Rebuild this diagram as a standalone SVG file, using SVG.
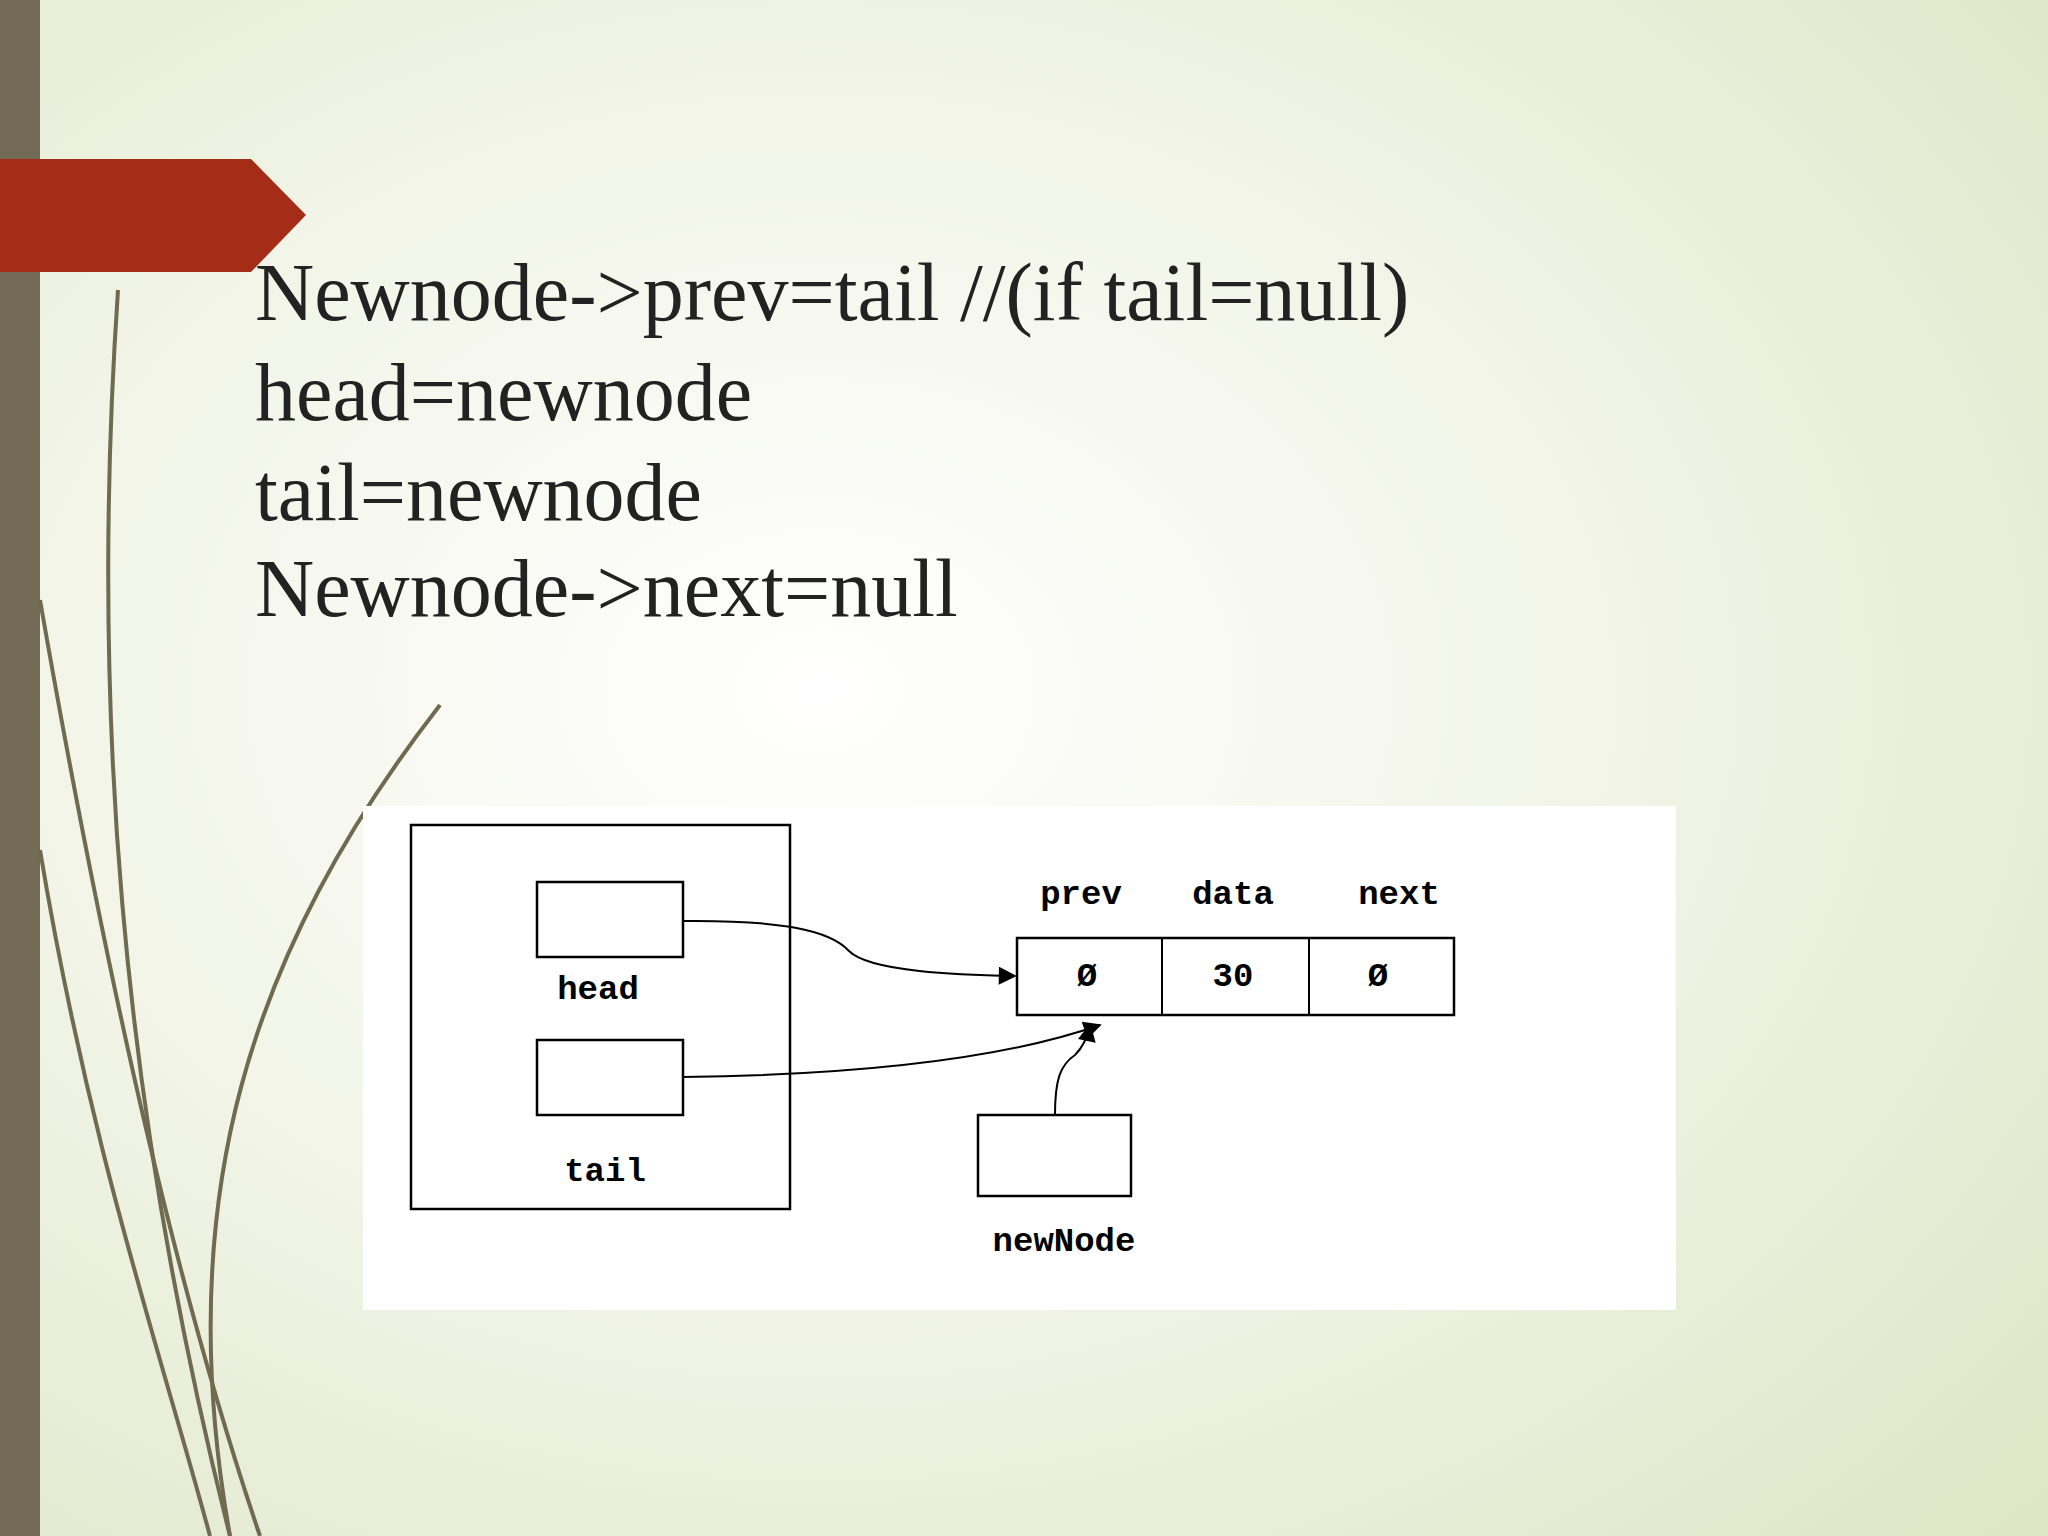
<svg xmlns="http://www.w3.org/2000/svg" width="2048" height="1536" viewBox="0 0 2048 1536">
<defs>
<radialGradient id="bg" cx="0.4" cy="0.45" r="0.8">
<stop offset="0" stop-color="#ffffff"/><stop offset="0.5" stop-color="#f1f4e6"/><stop offset="1" stop-color="#dde6c6"/>
</radialGradient>
<marker id="ah" viewBox="0 0 10 10" refX="9" refY="5" markerWidth="26" markerHeight="18" markerUnits="userSpaceOnUse" orient="auto"><path d="M0,0L10,5L0,10z" fill="#000"/></marker>
<style>
.t{font-family:"Liberation Serif",serif;font-size:82px;fill:#222}
.d{font-family:"Liberation Mono","Liberation Serif",monospace;font-size:34px;font-weight:bold;fill:#000;text-anchor:middle}
.b{fill:#fff;stroke:#000;stroke-width:2.5}
.c{fill:none;stroke:#000;stroke-width:2}
.deco{fill:none;stroke:#6f6a50;stroke-width:4}
</style>
</defs>
<rect width="2048" height="1536" fill="url(#bg)"/>
<g id="decor">
<rect x="0" y="0" width="40" height="1536" fill="#736b55"/>
<path class="deco" d="M118,290 C90,700 120,1100 230,1536"/>
<path class="deco" d="M40,600 C110,1000 180,1300 260,1536"/>
<path class="deco" d="M440,705 C250,950 170,1200 230,1536" stroke-width="3"/>
<path class="deco" d="M40,850 C90,1150 160,1350 210,1536" stroke="#a8a68a"/>
<polygon points="0,159 251,159 306,215 251,272 0,272" fill="#a52d17"/>
</g>
<g id="code">
<text class="t" x="255" y="320">Newnode-&gt;prev=tail //(if tail=null)</text>
<text class="t" x="255" y="420">head=newnode</text>
<text class="t" x="255" y="520">tail=newnode</text>
<text class="t" x="255" y="616">Newnode-&gt;next=null</text>
</g>
<rect x="363" y="806" width="1313" height="504" fill="#fff"/>
<g id="container"><rect class="b" x="411" y="825" width="379" height="384"/></g>
<g id="head"><rect class="b" x="537" y="882" width="146" height="75"/><text class="d" x="598" y="999">head</text></g>
<g id="tail"><rect class="b" x="537" y="1040" width="146" height="75"/><text class="d" x="605" y="1181">tail</text></g>
<g id="node">
<rect class="b" x="1017" y="938" width="437" height="77"/>
<line class="c" x1="1162" y1="938" x2="1162" y2="1015" stroke-width="2.5"/>
<line class="c" x1="1309" y1="938" x2="1309" y2="1015" stroke-width="2.5"/>
<text class="d" x="1081" y="904">prev</text><text class="d" x="1233" y="904">data</text><text class="d" x="1399" y="904">next</text>
<text class="d" x="1087" y="986">Ø</text><text class="d" x="1233" y="986">30</text><text class="d" x="1378" y="986">Ø</text>
</g>
<g id="newNode"><rect class="b" x="978" y="1115" width="153" height="81"/><text class="d" x="1064" y="1251">newNode</text></g>
<g id="connectors">
<path class="c" d="M683,921 C780,920 830,930 849,951 C870,972 960,975 1015,976" marker-end="url(#ah)"/>
<path class="c" d="M683,1077 C850,1075 1000,1060 1100,1025" marker-end="url(#ah)"/>
<path class="c" d="M1055,1115 C1055,1080 1060,1065 1075,1055 C1085,1045 1088,1035 1090,1025" marker-end="url(#ah)"/>
</g>
</svg>
